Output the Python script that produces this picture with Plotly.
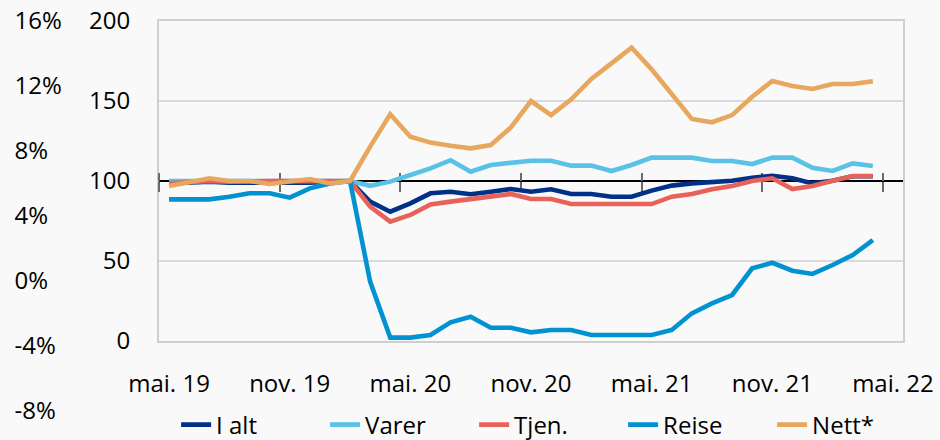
import plotly.graph_objects as go

# ---------------- data ----------------
month_names = ["jan.", "feb.", "mar.", "apr.", "mai.", "jun.", "jul.", "aug.", "sep.", "okt.", "nov.", "des."]
start_year, start_month, n_months = 2019, 5, 37  # mai 2019 .. mai 2022

categories = []
for k in range(n_months):
    m = (start_month - 1 + k) % 12
    y = start_year + (start_month - 1 + k) // 12
    categories.append(f"{month_names[m]} {str(y)[2:]}")

i_alt = [98.5, 99, 99.5, 99, 99, 98.5, 99, 99, 99.5, 100, 87.1, 80.8, 86, 92.3, 93.3, 91.7, 93.3, 95,
         93.3, 94.8, 91.9, 91.9, 90.2, 90.2, 94, 97.1, 98.5, 99, 100.2, 102, 103.3, 101.7, 98.5, 100.2, 103, 103]
varer = [100, 100, 100, 100, 99.5, 99.5, 100, 100, 99.5, 100, 97, 99.6, 103.75, 107.9, 113, 105.8, 110, 111.5,
         112.7, 112.7, 109.6, 109.6, 106.25, 110, 114.6, 114.6, 114.6, 112.5, 112.5, 110.6, 114.6, 114.6, 108.3, 106.25, 111, 109.4]
tjen = [98.5, 99.5, 100, 99.5, 100, 100, 100, 100, 100, 100, 84, 74.6, 78.75, 85.4, 87.1, 88.5, 90.2, 91.9,
        88.75, 88.75, 85.6, 85.6, 85.6, 85.6, 85.6, 90.2, 91.9, 94.8, 96.9, 100, 101.7, 95, 96.9, 100.2, 103.1, 103.1]
reise = [88.5, 88.5, 88.5, 90.2, 92.3, 92.3, 89.6, 95.4, 98.5, 100, 37.1, 2.1, 2.1, 3.75, 11.7, 15.2, 8.3, 8.3,
         5.4, 6.9, 6.9, 3.75, 3.75, 3.75, 3.75, 6.9, 17.3, 23.5, 28.75, 45.4, 48.9, 43.9, 41.9, 47.5, 53.75, 63.1]
nett = [96.9, 99.6, 101.7, 100, 100, 98.1, 99.6, 101.2, 98.5, 100, 121.5, 141.7, 127.7, 124, 122, 120.4, 122.5, 133.5,
        150, 141.2, 151, 163.8, 173.5, 183.3, 169.8, 154.2, 138.8, 136.7, 141.2, 152.7, 162.5, 159.4, 157.5, 160.6, 160.6, 162.3]

series_names = ["I alt", "Varer", "Tjen.", "Reise", "Nett*"]
series_values = [i_alt, varer, tjen, reise, nett]
series_colors = ["#003087", "#5BC2E7", "#E8625A", "#0092D1", "#E8A75E"]

index_ticks = [0, 50, 100, 150, 200]
pct_ticks = [-8, -4, 0, 4, 8, 12, 16]
pct_labels = ["-8%", "-4%", "0%", "4%", "8%", "12%", "16%"]
label_step = 6
base_value = 100

# ---------------- layout geometry ----------------
W, H = 940, 440
ml, mr, mt, mb = 10, 37, 21, 29
paper_w = W - ml - mr
paper_h = H - mt - mb
plot_left_px = 159
plot_bottom_px = 341
x_dom = [(plot_left_px - ml) / paper_w, 1]
y_dom = [(H - mb - plot_bottom_px) / paper_h, 1]
y_range = [index_ticks[0], index_ticks[-1]]
pos_base = y_dom[0] + (base_value - y_range[0]) / (y_range[1] - y_range[0]) * (y_dom[1] - y_dom[0])

xs = list(range(n_months))
x_range = [-0.5, n_months - 0.5]
label_pos = xs[::label_step]
label_txt = categories[::label_step]
bound_pos = [p - 0.5 for p in label_pos]

font_family = "Open Sans, Noto Sans, sans-serif"
fsize = 24
bg = "#F9F9F9"

fig = go.Figure()
for name, vals, col in zip(series_names, series_values, series_colors):
    fig.add_trace(go.Scatter(
        x=xs[:len(vals)], y=vals, name=name, mode="lines",
        line=dict(color=col, width=4.6), hoverinfo="skip"))

# helper traces (invisible) to host extra axes
fig.add_trace(go.Scatter(x=[0], y=[base_value], xaxis="x2", yaxis="y", mode="markers",
                         marker=dict(opacity=0), showlegend=False, hoverinfo="skip"))
fig.add_trace(go.Scatter(x=[0], y=[base_value], xaxis="x3", yaxis="y", mode="markers",
                         marker=dict(opacity=0), showlegend=False, hoverinfo="skip"))
fig.add_trace(go.Scatter(x=[0], y=[0], xaxis="x", yaxis="y2", mode="markers",
                         marker=dict(opacity=0), showlegend=False, hoverinfo="skip"))

fig.update_layout(
    width=W, height=H,
    margin=dict(l=ml, r=mr, t=mt, b=mb, autoexpand=False),
    paper_bgcolor=bg, plot_bgcolor="rgba(0,0,0,0)",
    font=dict(family=font_family, size=fsize, color="#000000"),
    showlegend=True,
    legend=dict(orientation="h", x=0.186, xanchor="left", y=-0.036, yanchor="middle",
                bgcolor="rgba(0,0,0,0)", font=dict(size=fsize), entrywidth=104,
                itemwidth=30, tracegroupgap=0),
    xaxis=dict(domain=x_dom, range=x_range, anchor="y", tickmode="array",
               tickvals=label_pos, ticktext=label_txt, ticks="", ticklabelstandoff=20,
               ticklabeloverflow="allow",
               showgrid=False, zeroline=False, showline=True, mirror=True,
               linecolor="#CFCFCF", linewidth=2, layer="below traces", automargin=False),
    xaxis2=dict(overlaying="x", anchor="free", position=pos_base, side="bottom",
                range=x_range, tickmode="array", tickvals=bound_pos, showticklabels=False,
                ticks="outside", ticklen=10, tickwidth=2, tickcolor="#6A6A6A",
                showline=True, linecolor="#000000", linewidth=1.5,
                showgrid=False, zeroline=False, layer="below traces", automargin=False),
    xaxis3=dict(overlaying="x", anchor="free", position=pos_base, side="top",
                range=x_range, tickmode="array", tickvals=bound_pos, showticklabels=False,
                ticks="outside", ticklen=8, tickwidth=2, tickcolor="#6A6A6A",
                showline=False, showgrid=False, zeroline=False, layer="below traces",
                automargin=False),
    yaxis=dict(domain=y_dom, range=y_range, anchor="x", tickmode="array", tickvals=index_ticks,
               ticks="", ticklabelstandoff=22, ticklabeloverflow="allow",
               showgrid=True, gridcolor="#D9D9D9", gridwidth=1.5,
               zeroline=False, showline=True, mirror=True, linecolor="#CFCFCF", linewidth=2,
               layer="below traces", automargin=False),
    yaxis2=dict(domain=[0, 1], range=[pct_ticks[0], pct_ticks[-1]], anchor="free", position=0.004,
                side="right", tickmode="array", tickvals=pct_ticks, ticktext=pct_labels,
                ticklabeloverflow="allow",
                ticks="", showgrid=False, zeroline=False, showline=False, automargin=False),
)

fig.write_html("out.html", config={"displayModeBar": False},
               post_script="document.body.style.margin='0';")
